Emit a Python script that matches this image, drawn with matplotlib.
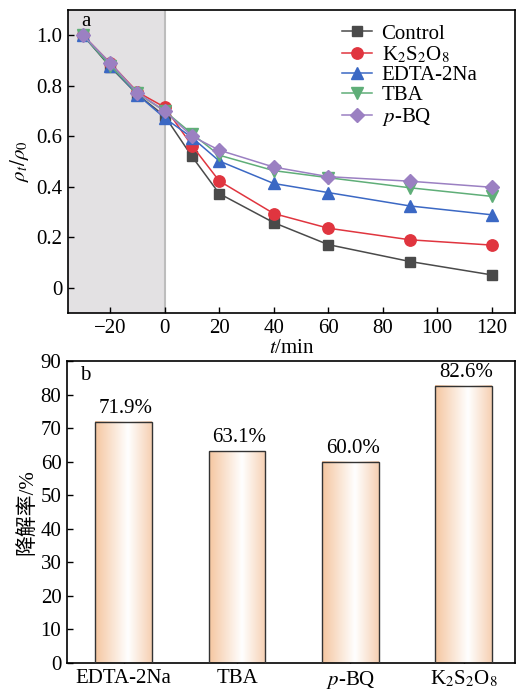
import numpy as np
import matplotlib
matplotlib.use("Agg")
import matplotlib.pyplot as plt
from matplotlib.colors import LinearSegmentedColormap

plt.rcParams['font.family'] = ['Liberation Serif', 'Noto Sans CJK SC']
plt.rcParams['mathtext.fontset'] = 'stix'
plt.rcParams['font.size'] = 15

# ---- data (panel a) ----
t = [-30, -20, -10, 0, 10, 20, 40, 60, 90, 120]
control = [1.0, 0.875, 0.765, 0.68, 0.52, 0.373, 0.258, 0.171, 0.104, 0.051]
k2s2o8 = [1.0, 0.89, 0.775, 0.715, 0.563, 0.423, 0.294, 0.236, 0.19, 0.169]
edta = [1.0, 0.88, 0.765, 0.672, 0.595, 0.502, 0.413, 0.377, 0.324, 0.289]
tba = [1.0, 0.88, 0.77, 0.70, 0.61, 0.525, 0.464, 0.436, 0.396, 0.362]
pbq = [1.0, 0.89, 0.772, 0.70, 0.60, 0.545, 0.478, 0.44, 0.422, 0.398]

series_labels = ['Control', r'K$_2$S$_2$O$_8$', 'EDTA-2Na', 'TBA', r'$p$-BQ']
series_colors = ['#4a4a4a', '#e0353f', '#3b68c4', '#5fae78', '#9b80c2']
series_markers = ['s', 'o', '^', 'v', 'D']

# ---- data (panel b) ----
bar_cats = ['EDTA-2Na', 'TBA', r'$p$-BQ', r'K$_2$S$_2$O$_8$']
bar_vals = [71.9, 63.1, 60.0, 82.6]
bar_texts = ['71.9%', '63.1%', '60.0%', '82.6%']

fig = plt.figure(figsize=(5.16, 6.91), dpi=100)

# ---------- panel a ----------
ax1 = fig.add_axes([0.1318, 0.547, 0.866, 0.4385])
ax1.axvspan(-35.5, 0, color='#e3e1e3', zorder=0, lw=0)
ax1.axvline(0, color='#bdbdbd', lw=1.5, zorder=1)
msizes = {'s': 7.5, 'o': 8.2, '^': 8.2, 'v': 8.2, 'D': 7.2}
for y, lab, c, m in zip([control, k2s2o8, edta, tba, pbq], series_labels,
                        series_colors, series_markers):
    ax1.plot(t, y, color=c, marker=m, ms=msizes[m], lw=1.1, label=lab,
             markeredgecolor=c, zorder=3)
ax1.set_xlim(-35.5, 128.5)
ax1.set_ylim(-0.1, 1.1)
ax1.set_xticks([-20, 0, 20, 40, 60, 80, 100, 120])
ax1.set_xticklabels(['\u221220', '0', '20', '40', '60', '80', '100', '120'])
ax1.set_yticks([0, 0.2, 0.4, 0.6, 0.8, 1.0])
ax1.set_yticklabels(['0', '0.2', '0.4', '0.6', '0.8', '1.0'])
ax1.tick_params(direction='in', length=4, width=1, pad=4)
ax1.set_xlabel(r'$t$/min', labelpad=1)
ax1.set_ylabel(r'$\rho_t/\rho_0$', labelpad=4)
ax1.text(0.03, 0.995, 'a', transform=ax1.transAxes, ha='left', va='top', fontsize=15)
ax1.legend(loc='upper left', bbox_to_anchor=(0.585, 0.995), frameon=False,
           fontsize=15, handlelength=1.45, labelspacing=0.03, handletextpad=0.45,
           borderaxespad=0.2)
for s in ax1.spines.values():
    s.set_linewidth(1.2)

# ---------- panel b ----------
ax2 = fig.add_axes([0.1298, 0.0405, 0.868, 0.4371])
cmap = LinearSegmentedColormap.from_list('g', [(0.0, '#f5c6a0'), (0.58, '#ffffff'),
                                               (1.0, '#f6d0b3')])
grad = np.linspace(0, 1, 256).reshape(1, -1)
x = np.arange(len(bar_cats))
w = 0.5
bars = ax2.bar(x, bar_vals, width=w, facecolor='none', edgecolor='#333333',
               lw=1.0, zorder=3)
for xi, v in zip(x, bar_vals):
    ax2.imshow(grad, cmap=cmap, aspect='auto', extent=(xi - w / 2, xi + w / 2, 0, v),
               zorder=2, interpolation='bicubic')
for xi, v, s in zip(x, bar_vals, bar_texts):
    ax2.text(xi + 0.02, v + 1.2, s, ha='center', va='bottom', fontsize=15)
ax2.set_xlim(-0.5, 3.45)
ax2.set_ylim(0, 90)
ax2.set_xticks(x)
ax2.set_xticklabels(bar_cats)
ax2.set_yticks(np.arange(0, 91, 10))
ax2.tick_params(direction='in', length=4, width=1, pad=4)
ax2.set_ylabel('降解率/%', labelpad=2)
ax2.text(0.03, 0.985, 'b', transform=ax2.transAxes, ha='left', va='top', fontsize=15)
for s in ax2.spines.values():
    s.set_linewidth(1.2)

fig.savefig('out.png', dpi=100)
